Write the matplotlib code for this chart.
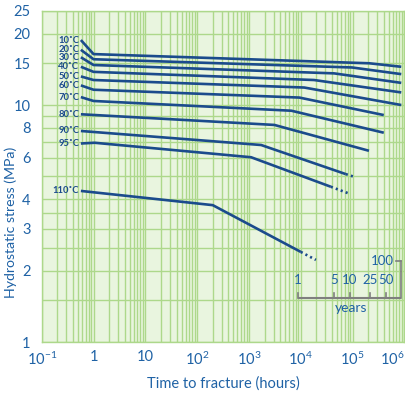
import numpy as np
import matplotlib
matplotlib.use('Agg')
from matplotlib import pyplot as plt

plt.rcParams['font.family'] = ['Lato', 'DejaVu Sans']
plt.rcParams['mathtext.fontset'] = 'custom'
plt.rcParams['mathtext.rm'] = 'Lato'
plt.rcParams['mathtext.it'] = 'Lato'

# curve data: time to fracture (hours) and hydrostatic stress (MPa)
temps = ['10˚C', '20˚C', '30˚C', '40˚C', '50˚C', '60˚C', '70˚C', '80˚C', '90˚C', '95˚C', '110˚C']

t_10 = [0.57, 1, 2.1e5, 8.7e5]
s_10 = [18.8, 16.4, 15.0, 14.5]
t_20 = [0.57, 1, 9.8e4, 8.7e5]
s_20 = [17.1, 15.6, 14.4, 13.5]
t_30 = [0.57, 1, 4.4e4, 8.7e5]
s_30 = [15.9, 14.75, 13.6, 12.4]
t_40 = [0.57, 1, 1.8e4, 8.7e5]
s_40 = [14.5, 13.8, 12.75, 11.3]
t_50 = [0.57, 1, 1.17e4, 8.7e5]
s_50 = [13.2, 12.75, 11.85, 10.0]
t_60 = [0.57, 1, 9.4e3, 4.0e5]
s_60 = [12.1, 11.6, 10.75, 9.07]
t_70 = [0.57, 1, 6.6e3, 4.0e5]
s_70 = [10.8, 10.4, 9.46, 7.64]
t_80 = [0.57, 3.1e3, 2.07e5]
s_80 = [9.14, 8.24, 6.41]
t_90 = [0.57, 1.72e3, 7.4e4]
s_90 = [7.77, 6.78, 5.11]
t_95 = [0.57, 1.05, 1.1e3, 3.8e4]
s_95 = [6.88, 6.93, 6.02, 4.52]
t_110 = [0.57, 200, 1.0e4]
s_110 = [4.34, 3.78, 2.40]

# dotted extrapolation (start, end)
t_90_dot = [7.4e4, 1.07e5]
s_90_dot = [5.11, 4.98]
t_95_dot = [3.8e4, 8.3e4]
s_95_dot = [4.52, 4.24]
t_110_dot = [1.0e4, 1.96e4]
s_110_dot = [2.40, 2.22]

# years scale
years = [1, 5, 10, 25, 50, 100]
hours_per_year = 8766

y_major = [1, 2, 3, 4, 6, 8, 10, 15, 20, 25]
y_minor = [1.5, 2.5, 3.5, 5, 7, 9]
x_major = [0.1, 1, 10, 1e2, 1e3, 1e4, 1e5, 1e6]
x_labels = ['$10^{-1}$', '1', '10', '$10^{2}$', '$10^{3}$', '$10^{4}$', '$10^{5}$', '$10^{6}$']

line_c = '#1b4b8c'
text_c = '#1f62a5'
grid_c = '#add88b'
bg_c = '#e9f5df'
brack_c = '#7f7f7f'

fig = plt.figure(figsize=(4.05, 3.98), dpi=100)
ax = fig.add_axes([0.103, 0.1407, 0.8955, 0.8324])
ax.set_facecolor(bg_c)
ax.set_xscale('log')
ax.set_yscale('log')
ax.set_xlim(0.1, 1e6)
ax.set_ylim(1, 25)

ax.set_xticks(x_major)
ax.set_xticklabels(x_labels)
ax.get_xticklabels()[-1].set_horizontalalignment('right')
ax.set_yticks(y_major)
ax.set_yticklabels([str(v) for v in y_major])
ax.set_yticks(y_minor, minor=True)
ax.xaxis.set_minor_locator(matplotlib.ticker.LogLocator(base=10, subs=np.arange(2, 10)))
ax.xaxis.set_minor_formatter(matplotlib.ticker.NullFormatter())
ax.yaxis.set_minor_formatter(matplotlib.ticker.NullFormatter())
ax.tick_params(which='both', length=0, colors=text_c, labelsize=10.5)
ax.tick_params(axis='y', pad=8)
ax.tick_params(axis='x', pad=6)
ax.grid(True, which='both', color=grid_c, lw=1.0)
ax.set_axisbelow(True)
for sp in ax.spines.values():
    sp.set_color(grid_c)
    sp.set_linewidth(1.0)

curves = [(t_10, s_10), (t_20, s_20), (t_30, s_30), (t_40, s_40), (t_50, s_50),
          (t_60, s_60), (t_70, s_70), (t_80, s_80), (t_90, s_90), (t_95, s_95),
          (t_110, s_110)]
for name, (t, s) in zip(temps, curves):
    ax.plot(t, s, color=line_c, lw=1.9, solid_capstyle='butt')
    ax.text(0.53, s[0], name, color=line_c, fontsize=6.8, fontweight='bold',
            ha='right', va='center')

for t, s in [(t_90_dot, s_90_dot), (t_95_dot, s_95_dot), (t_110_dot, s_110_dot)]:
    ax.plot(t, s, color=line_c, lw=1.9, linestyle=(0, (0.8, 1.2)))

# years bracket
yr_h = [y * hours_per_year for y in years]
ax.plot([yr_h[0], yr_h[-1]], [1.53, 1.53], color=brack_c, lw=1.5, solid_capstyle='butt')
for h in yr_h[:-1]:
    ax.plot([h, h], [1.53, 1.615], color=brack_c, lw=1.2)
ax.plot([yr_h[-1], yr_h[-1]], [1.53, 2.2], color=brack_c, lw=1.2)
ax.plot([6.75e5, yr_h[-1]], [2.2, 2.2], color=brack_c, lw=1.2)
for y, h in zip(years[:-1], yr_h[:-1]):
    ax.text(h, 1.83, str(y), color=text_c, fontsize=9.5, ha='center', va='center')
ax.text(6.4e5, 2.2, '100', color=text_c, fontsize=9.5, ha='right', va='center')
ax.text(9.35e4, 1.395, 'years', color=text_c, fontsize=10, ha='center', va='center')

ax.set_xlabel('Time to fracture (hours)', color=text_c, fontsize=10.5, labelpad=6)
ax.set_ylabel('Hydrostatic stress (MPa)', color=text_c, fontsize=10.2)
ax.yaxis.set_label_coords(-0.068, 0.36)

plt.savefig('out.png', dpi=100)
